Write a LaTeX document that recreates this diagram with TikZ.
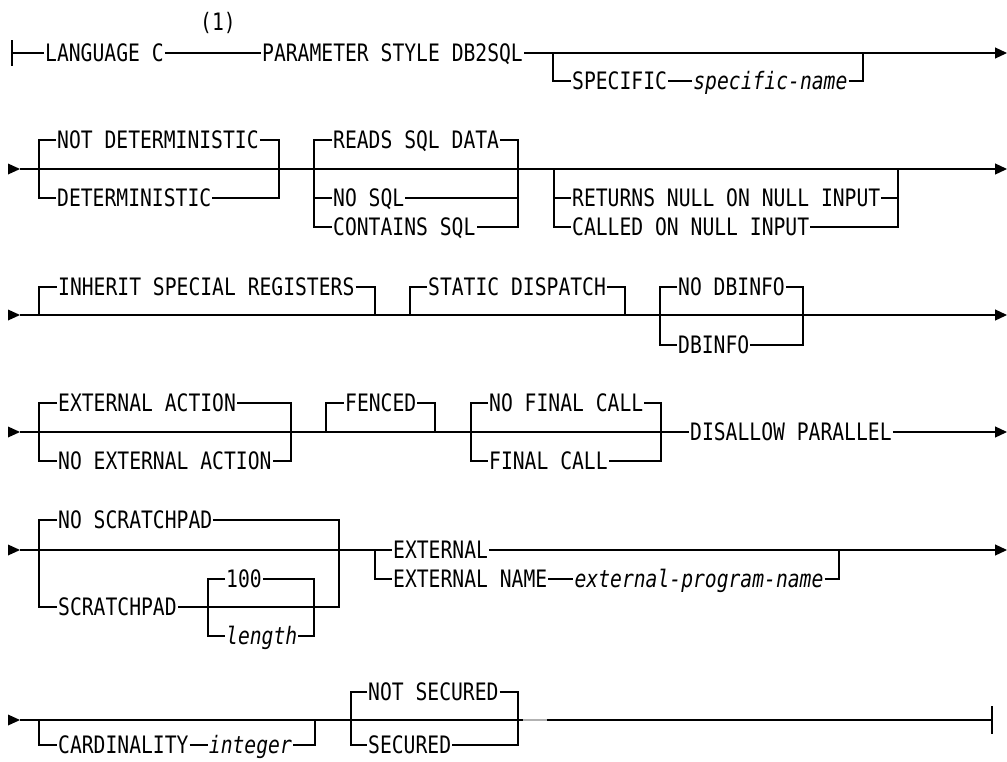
\documentclass[tikz,border=0pt]{standalone}
\usepackage{fontspec}
\usepackage{tikz}
\usetikzlibrary{arrows.meta,positioning}
\newfontfamily\railfont[FakeStretch=0.82]{DejaVu Sans Mono}

\begin{document}
\begin{tikzpicture}[
  x=1pt, y=-1pt,
  every node/.style={font=\railfont\fontsize{24}{24}\selectfont},
  kw/.style={anchor=west, inner xsep=1pt, inner ysep=0pt,
    text height=17.5pt, text depth=0pt},
  var/.style={kw, font=\railfont\fontsize{24}{24}\selectfont\itshape},
  rail/.style={line width=1.2pt},
  fwd/.style={rail, -{Triangle[length=12pt, width=11pt]}},
  inarr/.pic={\fill (-12,-5.5) -- (0,0) -- (-12,5.5) -- cycle;}
]
\useasboundingbox (0,0) rectangle (1007,761);

% row 1
\node[kw] (lang) at (44,53) {LANGUAGE C};
\node (note) at (218,23) {(1)};
\node[kw] (param) at (261,53) {PARAMETER STYLE DB2SQL};
\node[kw] (spec) at (571,81) {SPECIFIC};
\node[var, right=24pt of spec] (specname) {specific-name};
\draw[rail] (12,40) -- (12,66);
\draw[rail] (12,53) -- (lang.west);
\draw[rail] (lang.east) -- (param.west);
\draw[fwd] (param.east) -- (1007,53);
\draw[rail] (553,53) |- (spec.west);
\draw[rail] (spec.east) -- (specname.west);
\draw[rail] (specname.east) -| (863,53);

% row 2
\pic at (20,169) {inarr};
\draw[fwd] (20,169) -- (1007,169);
\node[kw] (ndet) at (56,140) {NOT DETERMINISTIC};
\node[kw] (det) at (56,198) {DETERMINISTIC};
\draw[rail] (ndet.west) -| (39,198) -- (det.west);
\draw[rail] (ndet.east) -| (279,198) -- (det.east);
\node[kw] (rsd) at (332,140) {READS SQL DATA};
\node[kw] (nosql) at (332,198) {NO SQL};
\node[kw] (csql) at (332,227) {CONTAINS SQL};
\draw[rail] (rsd.west) -| (314,227) -- (csql.west);
\draw[rail] (314,198) -- (nosql.west);
\draw[rail] (rsd.east) -| (518,227) -- (csql.east);
\draw[rail] (nosql.east) -- (518,198);
\node[kw] (rnull) at (571,198) {RETURNS NULL ON NULL INPUT};
\node[kw] (called) at (571,227) {CALLED ON NULL INPUT};
\draw[rail] (554,169) |- (called.west);
\draw[rail] (554,198) -- (rnull.west);
\draw[rail] (rnull.east) -- (898,198);
\draw[rail] (called.east) -| (898,169);

% row 3
\pic at (20,315) {inarr};
\draw[fwd] (20,315) -- (1007,315);
\node[kw] (inh) at (57,287) {INHERIT SPECIAL REGISTERS};
\draw[rail] (39,315) |- (inh.west);
\draw[rail] (inh.east) -| (375,315);
\node[kw] (stat) at (427,287) {STATIC DISPATCH};
\draw[rail] (410,315) |- (stat.west);
\draw[rail] (stat.east) -| (625,315);
\node[kw] (ndb) at (677,287) {NO DBINFO};
\node[kw] (dbi) at (677,345) {DBINFO};
\draw[rail] (ndb.west) -| (660,345) -- (dbi.west);
\draw[rail] (ndb.east) -| (803,345) -- (dbi.east);

% row 4
\pic at (20,432) {inarr};
\node[kw] (extact) at (57,403) {EXTERNAL ACTION};
\node[kw] (noext) at (57,461) {NO EXTERNAL ACTION};
\draw[rail] (extact.west) -| (39,461) -- (noext.west);
\draw[rail] (extact.east) -| (291,461) -- (noext.east);
\node[kw] (fenced) at (344,403) {FENCED};
\draw[rail] (326,432) |- (fenced.west);
\draw[rail] (fenced.east) -| (435,432);
\node[kw] (nfc) at (488,403) {NO FINAL CALL};
\node[kw] (fc) at (488,461) {FINAL CALL};
\draw[rail] (nfc.west) -| (471,461) -- (fc.west);
\draw[rail] (nfc.east) -| (661,461) -- (fc.east);
\node[kw] (dpar) at (689,432) {DISALLOW PARALLEL};
\draw[rail] (20,432) -- (dpar.west);
\draw[fwd] (dpar.east) -- (1007,432);

% row 5
\pic at (20,550) {inarr};
\node[kw] (nscr) at (57,520) {NO SCRATCHPAD};
\node[kw] (scr) at (57,607) {SCRATCHPAD};
\draw[rail] (nscr.west) -| (39,607) -- (scr.west);
\draw[rail] (nscr.east) -| (339,607) -- (scr.east);
\node[kw] (hundred) at (225,579) {100};
\node[var] (len) at (225,636) {length};
\draw[rail] (hundred.west) -| (208,636) -- (len.west);
\draw[rail] (hundred.east) -| (314,636) -- (len.east);
\node[kw] (ext) at (392,550) {EXTERNAL};
\node[kw] (extn) at (392,579) {EXTERNAL NAME};
\node[var, right=25pt of extn] (pgm) {external-program-name};
\draw[rail] (20,550) -- (ext.west);
\draw[fwd] (ext.east) -- (1007,550);
\draw[rail] (375,550) |- (extn.west);
\draw[rail] (extn.east) -- (pgm.west);
\draw[rail] (pgm.east) -| (839,550);

% row 6
\pic at (20,720) {inarr};
\draw[rail] (20,720) -- (992,720);
\draw[rail] (992,706) -- (992,734);
\node[kw] (card) at (57,745) {CARDINALITY};
\node[var, right=18pt of card] (intg) {integer};
\draw[rail] (39,720) |- (card.west);
\draw[rail] (card.east) -- (intg.west);
\draw[rail] (intg.east) -| (315,720);
\node[kw] (nsec) at (367,692) {NOT SECURED};
\node[kw] (sec) at (367,745) {SECURED};
\draw[rail] (nsec.west) -| (351,745) -- (sec.west);
\draw[rail] (nsec.east) -| (518,745) -- (sec.east);
\draw[rail, gray!60] (523,720) -- (547,720);
\end{tikzpicture}
\end{document}
